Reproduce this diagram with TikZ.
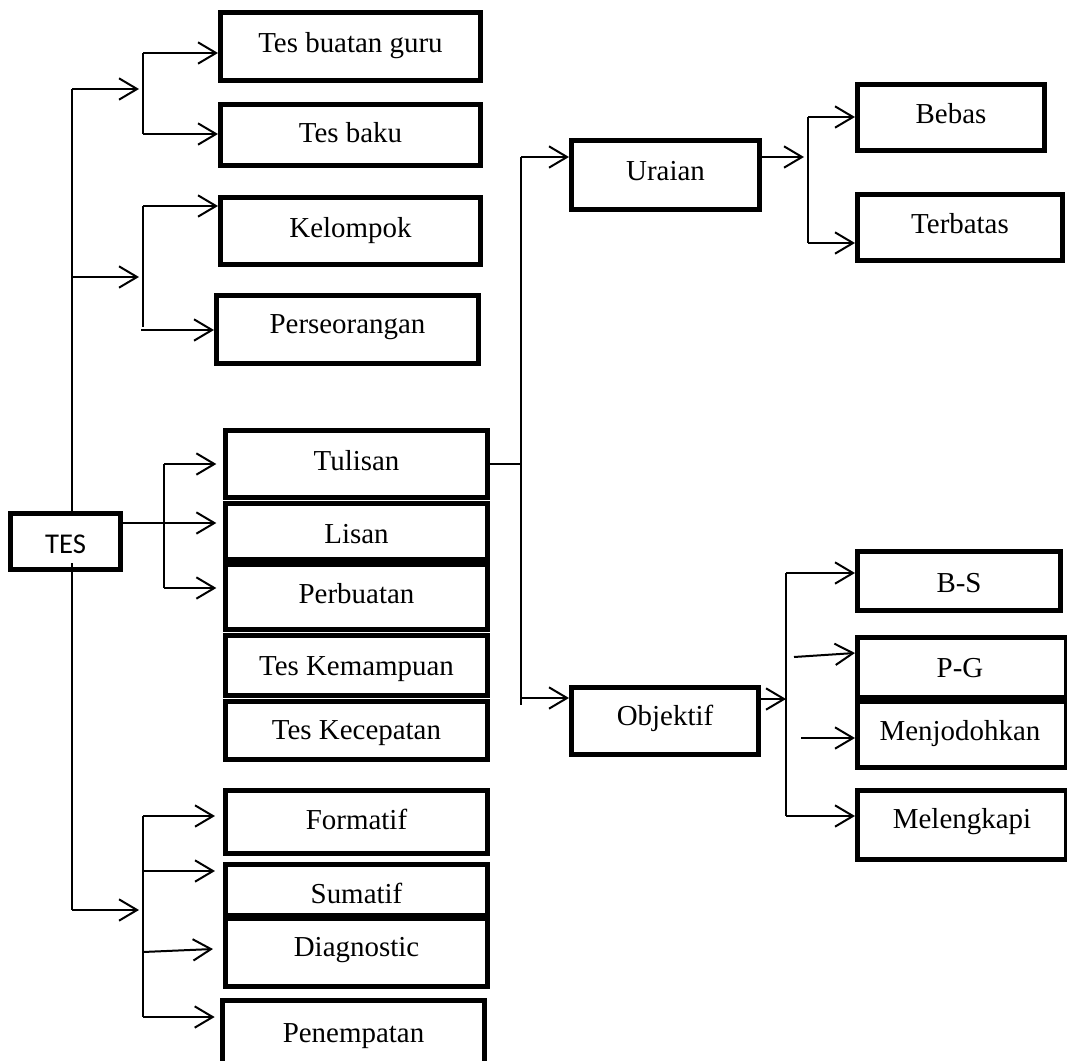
\documentclass[tikz,border=0pt]{standalone}
\usepackage{fontspec}
\setmainfont{Liberation Serif}
\newfontfamily\tesfont{Carlito}
\usetikzlibrary{arrows.meta,calc}
\begin{document}
\begin{tikzpicture}[x=0.75pt,y=-0.75pt,
  box/.style={draw,line width=4pt,rectangle,inner sep=0pt},
  sz/.style 2 args={minimum width=#1*0.75pt-0.6pt,minimum height=#2*0.75pt-0.6pt},
  lbl/.style={anchor=base,inner sep=0pt,font=\fontsize{21.7}{26}\selectfont},
  conn/.style={line width=1.5pt},
  arr/.style={line width=1.5pt,-{Straight Barb[length=13.5pt,width=16pt]}}]
\clip (0,0) rectangle (1067,1060);
\fill[white] (0,0) rectangle (1067,1060);

% ---------- boxes ----------
\node[box,sz={260.5}{68.5}] (guru) at (350.5,46.5) {};
\node[lbl] (tguru) at (350.5,52) {Tes buatan guru};
\node[box,sz={260.5}{61.5}] (baku) at (350.5,135) {};
\node[lbl] (tbaku) at (350.5,142) {Tes baku};
\node[box,sz={260.5}{67.5}] (kelompok) at (350.5,231) {};
\node[lbl] (tkelompok) at (350.5,237) {Kelompok};
\node[box,sz={262.5}{68.5}] (perse) at (347.5,329.5) {};
\node[lbl] (tperse) at (347.5,333) {Perseorangan};

\node[box,sz={262.5}{67.5}] (tulisan) at (356.5,464) {};
\node[lbl] (ttulisan) at (356.5,470) {Tulisan};
\node[box,sz={262.5}{56.5}] (lisan) at (356.5,531.5) {};
\node[lbl] (tlisan) at (356.5,543) {Lisan};
\node[box,sz={262.5}{65.5}] (perbuatan) at (356.5,597) {};
\node[lbl] (tperbuatan) at (356.5,603) {Perbuatan};
\node[box,sz={262.5}{60.5}] (kemampuan) at (356.5,665.5) {};
\node[lbl] (tkemampuan) at (356.5,675) {Tes Kemampuan};
\node[box,sz={262.5}{58.5}] (kecepatan) at (356.5,730.5) {};
\node[lbl] (tkecepatan) at (356.5,739) {Tes Kecepatan};

\node[box,sz={110.5}{56.5}] (tes) at (65.5,541.5) {};
\node[lbl,font=\tesfont\fontsize{21.5}{26}\selectfont] (ttes) at (65.5,553) {TES};

\node[box,sz={262.5}{63.5}] (formatif) at (356.5,822) {};
\node[lbl] (tformatif) at (356.5,829) {Formatif};
\node[box,sz={262.5}{51.5}] (sumatif) at (356.5,890) {};
\node[lbl] (tsumatif) at (356.5,903) {Sumatif};
\node[box,sz={262.5}{68.5}] (diag) at (356.5,952.5) {};
\node[lbl] (tdiag) at (356.5,956) {Diagnostic};
\node[box,sz={262.5}{67.5}] (penempatan) at (353.5,1034) {};
\node[lbl] (tpenempatan) at (353.5,1042) {Penempatan};

\node[box,sz={188.5}{69.5}] (uraian) at (665.5,175) {};
\node[lbl] (turaian) at (665.5,180) {Uraian};
\node[box,sz={187.5}{67.5}] (objektif) at (665,721) {};
\node[lbl] (tobjektif) at (665,725) {Objektif};

\node[box,sz={187.5}{66.5}] (bebas) at (951,117.5) {};
\node[lbl] (tbebas) at (951,123) {Bebas};
\node[box,sz={205.5}{66.5}] (terbatas) at (960,227.5) {};
\node[lbl] (tterbatas) at (960,233) {Terbatas};

\node[box,sz={203.5}{59.5}] (bs) at (959,581) {};
\node[lbl] (tbs) at (959,592) {B-S};
\node[box,sz={209.5}{60.5}] (pg) at (962,667.5) {};
\node[lbl] (tpg) at (960,677) {P-G};
\node[box,sz={209.5}{66.5}] (menj) at (962,734.5) {};
\node[lbl] (tmenj) at (960,740) {Menjodohkan};
\node[box,sz={209.5}{69.5}] (melengkapi) at (962,825) {};
\node[lbl] (tmelengkapi) at (962,828) {Melengkapi};

% ---------- coordinates ----------
\coordinate (v1) at (72,89);
\coordinate (v2) at (72,277);
\coordinate (vs) at (72,563);
\coordinate (v3) at (72,910);
\coordinate (b1t) at (143,53);
\coordinate (b1b) at (143,134);
\coordinate (b2t) at (143,206);
\coordinate (b2b) at (143,327);
\coordinate (p2) at (141,330);
\coordinate (b3t) at (164,464);
\coordinate (b3b) at (164,588);
\coordinate (b4t) at (143,816);
\coordinate (b4b) at (143,1017);
\coordinate (s1) at (143,871);
\coordinate (s2) at (143,952);
\coordinate (m0) at (521,157);
\coordinate (m1) at (521,464);
\coordinate (m3) at (521,698);
\coordinate (m2) at (521,705);
\coordinate (b5t) at (808,117);
\coordinate (b5m) at (808,157);
\coordinate (b5b) at (808,243);
\coordinate (b6t) at (786,573);
\coordinate (b6m) at (786,699);
\coordinate (b6b) at (786,816);
\coordinate (g1) at (794,657);
\coordinate (g2) at (801,738);

% ---------- left connectors ----------
\draw[conn] (tes.north -| v1) -- (v1);
\draw[arr] (v1) -- ($(b1t |- v1)+(-4,0)$);
\draw[conn] (b1t) -- (b1b);
\draw[arr] (b1t) -- (guru.west |- b1t);
\draw[arr] (b1b) -- (baku.west |- b1b);

\draw[arr] (v2) -- ($(b2t |- v2)+(-4,0)$);
\draw[conn] (b2t) -- (b2b);
\draw[arr] (b2t) -- (kelompok.west |- b2t);
\draw[arr] (p2) -- (perse.west |- p2);

\draw[arr,shorten >=5pt] ($(tes.east)+(0,-18.5)$) -- (lisan.west |- 0,523);
\draw[conn] (b3t) -- (b3b);
\draw[arr,shorten >=5pt] (b3t) -- (tulisan.west |- b3t);
\draw[arr,shorten >=5pt] (b3b) -- (perbuatan.west |- b3b);

\draw[conn] (vs) -- (v3);
\draw[arr] (v3) -- ($(b4t |- v3)+(-4,0)$);
\draw[conn] (b4t) -- (b4b);
\draw[arr,shorten >=6pt] (b4t) -- (formatif.west |- b4t);
\draw[arr,shorten >=6pt] (s1) -- (sumatif.west |- s1);
\draw[arr] (s2) -- ($(diag.west)+(-10,-3.5)$);
\draw[arr,shorten >=4pt] (b4b) -- (penempatan.west |- b4b);

% ---------- middle connectors ----------
\draw[conn] (tulisan.east) -- (m1);
\draw[conn] (m0) -- (m2);
\draw[arr] (m0) -- (uraian.west |- m0);
\draw[arr] (m3) -- (objektif.west |- m3);

% ---------- right connectors ----------
\draw[arr] (uraian.east |- b5m) -- ($(b5m)+(-4,0)$);
\draw[conn] (b5t) -- (b5b);
\draw[arr] (b5t) -- (bebas.west |- b5t);
\draw[arr] (b5b) -- (terbatas.west |- b5b);

\draw[arr] (objektif.east |- b6m) -- (b6m);
\draw[conn] (b6t) -- (b6b);
\draw[arr] (b6t) -- (bs.west |- b6t);
\draw[arr] (g1) -- ($(pg.west)+(0,-14.5)$);
\draw[arr] (g2) -- ($(menj.west)+(0,3.5)$);
\draw[arr] (b6b) -- (melengkapi.west |- b6b);
\end{tikzpicture}
\end{document}
